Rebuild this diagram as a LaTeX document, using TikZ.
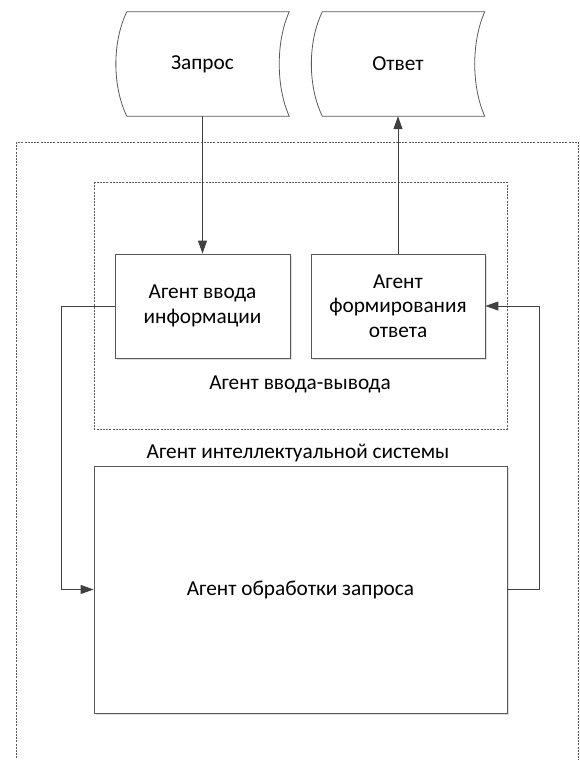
\documentclass[tikz,border=0pt]{standalone}
\usepackage{fontspec}
\setmainfont{Carlito}
\usetikzlibrary{arrows.meta,shadows}

\definecolor{linegray}{HTML}{404040}
\definecolor{boxgray}{HTML}{595959}

\tikzset{
    agentbox/.style={draw=boxgray, line width=0.8pt, fill=white, align=center,
        general shadow={fill=black!12, shadow xshift=2pt, shadow yshift=-2pt}},
    storebox/.style={minimum width=173pt, minimum height=104pt, inner sep=0pt},
    groupline/.style={draw=boxgray, line width=0.6pt, dash pattern=on 2pt off 1.2pt},
    flow/.style={draw=linegray, line width=1pt, -{Triangle[length=13pt, width=9pt]}},
}

\begin{document}
\begin{tikzpicture}[x=1pt, y=-1pt, font=\fontsize{21.3}{24.5}\selectfont]
    \useasboundingbox (0,0) rectangle (580,760);

    % Outer system frame
    \draw[groupline] (16,142) rectangle (578.5,780);
    \node (syslabel) at (298,453) {Агент интеллектуальной системы};

    % Input/output agent frame
    \draw[groupline] (94,182) rectangle (507,429);
    \node (iolabel) at (300,384) {Агент ввода-вывода};

    % Stored data: request and answer
    \node[storebox] (req) at (202.5,64) {Запрос};
    \draw[boxgray, line width=0.8pt] ([xshift=11pt]req.north west) -- (req.north east)
        .. controls +(-13.3,30) and +(-13.3,-30) .. (req.south east)
        -- ([xshift=11pt]req.south west)
        .. controls +(-14.6,-30) and +(-14.6,30) .. ([xshift=11pt]req.north west) -- cycle;

    \node[storebox] (resp) at (398,64) {Ответ};
    \draw[boxgray, line width=0.8pt] ([xshift=11pt]resp.north west) -- (resp.north east)
        .. controls +(-13.3,30) and +(-13.3,-30) .. (resp.south east)
        -- ([xshift=11pt]resp.south west)
        .. controls +(-14.6,-30) and +(-14.6,30) .. ([xshift=11pt]resp.north west) -- cycle;

    % Agents
    \node[agentbox, minimum width=175pt, minimum height=104pt] (inp) at (202.5,306)
        {Агент ввода\\информации};
    \node[agentbox, minimum width=174pt, minimum height=104pt] (ans) at (398,306)
        {Агент\\формирования\\ответа};
    \node[agentbox, minimum width=413pt, minimum height=247pt] (proc) at (300.5,589.5)
        {Агент обработки запроса};

    % Connections
    \draw[flow] (req.south) -- (inp.north);
    \draw[flow] (ans.north) -- (resp.south);
    \draw[flow] (inp.west) -- ++(-53,0) |- (proc.west);
    \draw[flow] (proc.east) -- ++(32,0) |- (ans.east);
\end{tikzpicture}
\end{document}
